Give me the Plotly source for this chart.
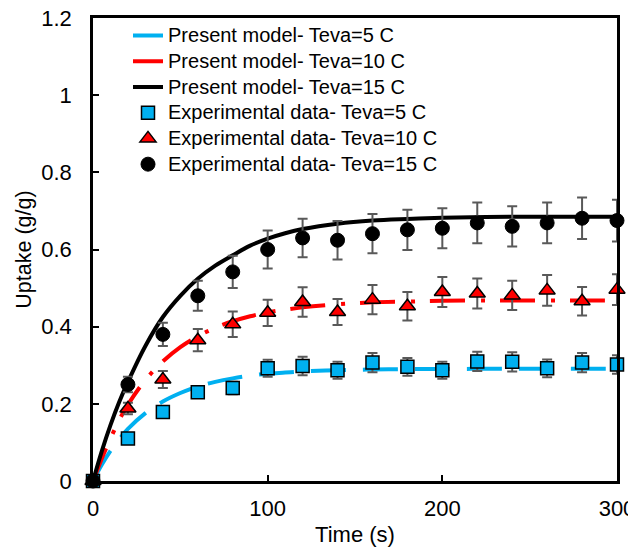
import plotly.graph_objects as go

# ---- data ----
t_model = [0, 5, 10, 15, 20, 30, 40, 50, 60, 70, 80, 90, 100, 110, 120, 140, 160, 180, 200, 225, 250, 275, 300]
model_5 = [0, 0.042, 0.078, 0.108, 0.135, 0.176, 0.206, 0.228, 0.245, 0.257, 0.266, 0.273, 0.278, 0.281, 0.284,
           0.287, 0.289, 0.290, 0.290, 0.291, 0.291, 0.291, 0.291]
model_10 = [0, 0.058, 0.110, 0.158, 0.198, 0.262, 0.310, 0.347, 0.375, 0.397, 0.414, 0.427, 0.437, 0.444, 0.450,
            0.458, 0.463, 0.465, 0.467, 0.468, 0.468, 0.468, 0.468]
model_15 = [0, 0.077, 0.145, 0.205, 0.257, 0.350, 0.425, 0.480, 0.524, 0.558, 0.585, 0.610, 0.628, 0.642, 0.653,
            0.667, 0.675, 0.679, 0.682, 0.684, 0.685, 0.685, 0.685]

t_exp = [0, 20, 40, 60, 80, 100, 120, 140, 160, 180, 200, 220, 240, 260, 280, 300]
exp_5 = [0, 0.110, 0.179, 0.230, 0.241, 0.292, 0.298, 0.287, 0.307, 0.296, 0.287, 0.310, 0.309, 0.292, 0.307, 0.302]
err_5 = [0, 0.010, 0.012, 0.015, 0.016, 0.022, 0.024, 0.022, 0.025, 0.023, 0.022, 0.025, 0.025, 0.023, 0.025, 0.024]
exp_10 = [0, 0.188, 0.263, 0.365, 0.406, 0.436, 0.464, 0.438, 0.470, 0.453, 0.490, 0.486, 0.481, 0.494, 0.466, 0.496]
err_10 = [0, 0.015, 0.022, 0.029, 0.033, 0.034, 0.038, 0.034, 0.038, 0.037, 0.039, 0.039, 0.038, 0.040, 0.037, 0.040]
exp_15 = [0, 0.250, 0.380, 0.480, 0.542, 0.600, 0.630, 0.624, 0.641, 0.651, 0.655, 0.669, 0.660, 0.669, 0.681, 0.675]
err_15 = [0, 0.020, 0.030, 0.039, 0.042, 0.049, 0.050, 0.050, 0.051, 0.052, 0.052, 0.053, 0.052, 0.053, 0.054, 0.054]

x_ticks = [0, 100, 200, 300]
y_ticks = [0, 0.2, 0.4, 0.6, 0.8, 1.0, 1.2]
y_tick_text = ["0", "0.2", "0.4", "0.6", "0.8", "1", "1.2"]

names = ["Present model- Teva=5 C", "Present model- Teva=10 C", "Present model- Teva=15 C",
         "Experimental data- Teva=5 C", "Experimental data- Teva=10 C", "Experimental data- Teva=15 C"]

BLUE = "#00B0F0"
RED = "#FF0000"
BLACK = "#000000"
GRAY = "#595959"
FONT = "Liberation Sans, Arial, sans-serif"


def lg(name):
    return '<span style="font-size:20px">' + name + '</span>'


fig = go.Figure()

fig.add_trace(go.Scatter(x=t_model, y=model_5, mode="lines", line_shape="spline",
                         line=dict(color=BLUE, width=4, dash="35px,17px"),
                         name=lg(names[0]), cliponaxis=False))
fig.add_trace(go.Scatter(x=t_model, y=model_10, mode="lines", line_shape="spline",
                         line=dict(color=RED, width=4, dash="35px,16px,4px,15px"),
                         name=lg(names[1]), cliponaxis=False))
fig.add_trace(go.Scatter(x=t_model, y=model_15, mode="lines", line_shape="spline",
                         line=dict(color=BLACK, width=4),
                         name=lg(names[2]), cliponaxis=False))


def err(vals):
    return dict(type="data", array=vals, visible=True, color=GRAY, thickness=2, width=5)


fig.add_trace(go.Scatter(x=t_exp, y=exp_5, mode="markers", error_y=err(err_5),
                         marker=dict(symbol="square", size=13, color=BLUE, line=dict(color=BLACK, width=1.5)),
                         name=lg(names[3]), cliponaxis=False))
fig.add_trace(go.Scatter(x=t_exp, y=exp_10, mode="markers", error_y=err(err_10),
                         marker=dict(symbol="triangle-up", size=14, color=RED, line=dict(color=BLACK, width=1.5)),
                         name=lg(names[4]), cliponaxis=False))
fig.add_trace(go.Scatter(x=t_exp, y=exp_15, mode="markers", error_y=err(err_15),
                         marker=dict(symbol="circle", size=14, color=BLACK, line=dict(color=BLACK, width=1)),
                         name=lg(names[5]), cliponaxis=False))

# the page body has an 8px default margin, so the figure is sized/offset to compensate
fig.update_layout(
    width=628, height=541,
    margin=dict(l=85, r=19, t=10, b=68, autoexpand=False),
    paper_bgcolor="white", plot_bgcolor="white",
    font=dict(family=FONT, size=22, color="black"),
    showlegend=True,
    legend=dict(x=0.0668, y=1.001, xanchor="left", yanchor="top",
                bgcolor="rgba(0,0,0,0)", borderwidth=0,
                font=dict(size=17.5), tracegroupgap=0),
    xaxis=dict(range=[0, 300], tickvals=x_ticks, showgrid=False, zeroline=False,
               showline=True, linecolor=BLACK, linewidth=2.5, mirror=True,
               ticks="inside", ticklen=6, tickwidth=2, tickcolor=BLACK,
               ticklabelstandoff=6, tickfont=dict(size=22), ticklabeloverflow="allow",
               title=dict(text="Time (s)", font=dict(size=22), standoff=7)),
    yaxis=dict(range=[0, 1.2], tickvals=y_ticks, ticktext=y_tick_text, showgrid=False, zeroline=False,
               showline=True, linecolor=BLACK, linewidth=2.5, mirror=True,
               ticks="inside", ticklen=6, tickwidth=2, tickcolor=BLACK,
               ticklabelstandoff=14, tickfont=dict(size=22), ticklabeloverflow="allow",
               title=dict(text="Uptake (g/g)", font=dict(size=21.5), standoff=4)),
)

fig.write_html("out.html")
